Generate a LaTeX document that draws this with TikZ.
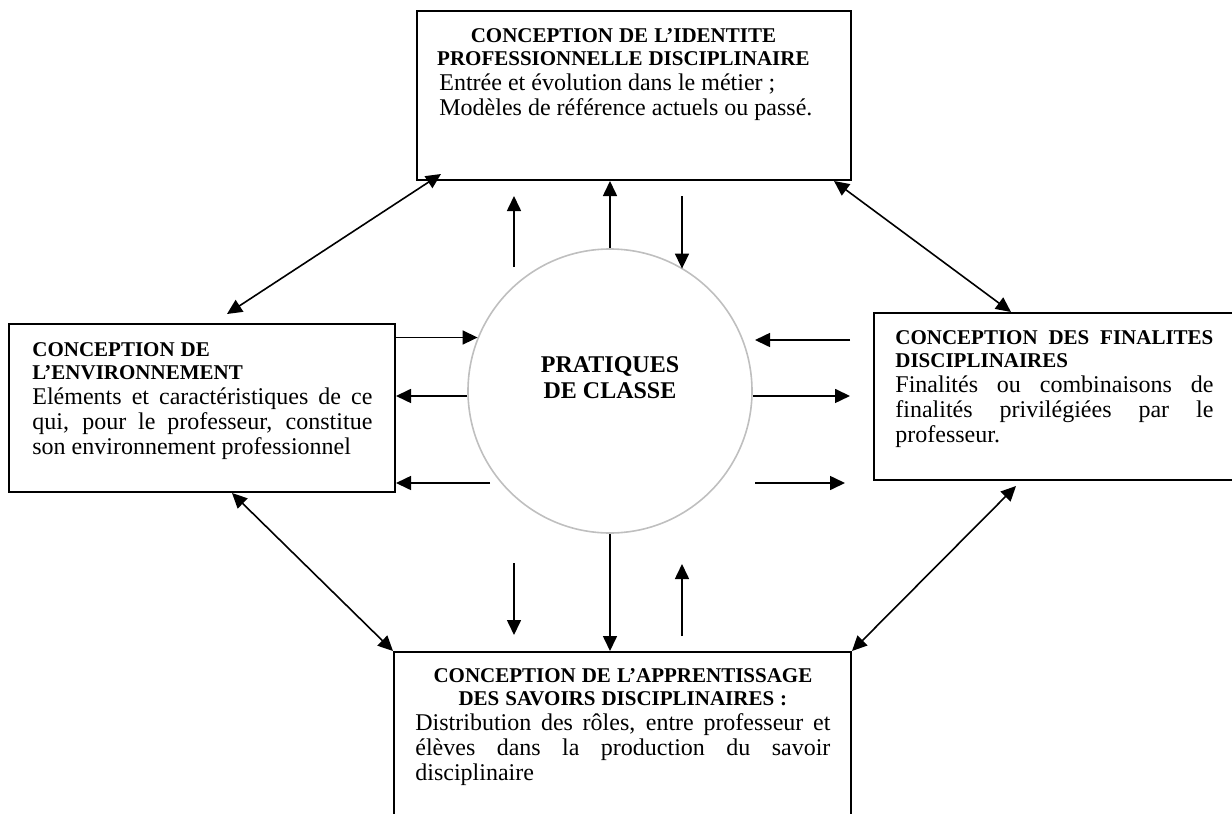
\documentclass[tikz,border=0pt]{standalone}
\usepackage{fontspec}
\setmainfont{Liberation Serif}
\usetikzlibrary{arrows.meta}
\definecolor{pqInk}{HTML}{000000}
\definecolor{pqRing}{HTML}{BFBFBF}
\setlength{\parindent}{0pt}
\newcommand{\pqtitle}{\fontsize{10.5}{11.5}\selectfont\bfseries}
\tikzset{
  pq box/.style={rectangle, draw=pqInk, line width=1pt, inner sep=0pt},
  pq text/.style={anchor=north west, inner sep=0pt, align=justify, font=\fontsize{12}{12.5}\selectfont,
    execute at begin node={\tolerance=10000\hyphenpenalty=10000\exhyphenpenalty=10000%
      \spaceskip=.25em plus 1.5em minus .08em\relax}},
  pq ring/.style={circle, draw=pqRing, line width=0.8pt, minimum size=142pt, inner sep=0pt},
  pq label/.style={inner sep=0pt, align=center, font=\fontsize{12}{13}\selectfont\bfseries},
  pq arrow/.style={draw=pqInk, line width=0.8pt, -{Triangle[length=7.5pt,width=7pt]}},
  pq both/.style={draw=pqInk, line width=0.8pt, {Triangle[length=7.5pt,width=7pt]}-{Triangle[length=7.5pt,width=7pt]}},
}

\begin{document}
\begin{tikzpicture}[x=0.5pt, y=-0.5pt]
  \useasboundingbox (0,0) rectangle (1232,814);
  \clip (0,0) rectangle (1232,814);
  % The four boxes (right and bottom ones run off the page)
  \node[pq box, minimum width=217pt, minimum height=84.5pt] (ident) at (634,95.5) {};
  \node[pq box, minimum width=193pt, minimum height=84pt] (envir) at (202,408) {};
  \node[pq box, minimum width=180pt, minimum height=83.5pt] (final) at (1054,396.5) {};
  \node[pq box, minimum width=228.5pt, minimum height=83pt] (appr) at (622.5,735) {};
  % Central circle
  \node[pq ring] (prat) at (610,391) {};
  \node[pq label] (pratTxt) at (610,378) {PRATIQUES\\DE CLASSE};
  % Box texts
  \node[pq text, text width=189pt] (identTxt) at (434,28)
    {{\centering\pqtitle CONCEPTION DE L’IDENTITE\par PROFESSIONNELLE DISCIPLINAIRE\par}%
     \leavevmode\hspace*{2.5pt}Entrée et évolution dans le métier ;\par
     \leavevmode\hspace*{2.5pt}Modèles de référence actuels ou passé.};
  \node[pq text, text width=170pt] (envirTxt) at (32,342)
    {{\pqtitle CONCEPTION DE\par L’ENVIRONNEMENT\par}%
     Eléments et caractéristiques de ce qui, pour le professeur, constitue son environnement professionnel};
  \node[pq text, text width=159pt] (finalTxt) at (895,330)
    {{\pqtitle CONCEPTION DES FINALITES DISCIPLINAIRES\par}%
     Finalités ou combinaisons de finalités privilégiées par le professeur.};
  \node[pq text, text width=207.5pt] (apprTxt) at (415,668)
    {{\centering\pqtitle CONCEPTION DE L’APPRENTISSAGE\par DES SAVOIRS DISCIPLINAIRES~:\par}%
     Distribution des rôles, entre professeur et\linebreak élèves dans la production du savoir disciplinaire};
  % Free ends of the short arrows
  \coordinate (a1s) at (514,267);
  \coordinate (a1e) at (514,196);
  \coordinate (a3s) at (682,196);
  \coordinate (b1s) at (514,563);
  \coordinate (b1e) at (514,635);
  \coordinate (b3s) at (682,636);
  \coordinate (b3e) at (682,564);
  \coordinate (l3s) at (490,483);
  \coordinate (r1s) at (850,340);
  \coordinate (r1e) at (755,340);
  \coordinate (r2e) at (850,396);
  \coordinate (r3s) at (755,483);
  \coordinate (r3e) at (845,483);
  % Arrows round the circle
  \draw[pq arrow] (a1s) -- (a1e);
  \draw[pq arrow] (prat.north) -- (prat.north |- ident.south);
  \draw[pq arrow] (a3s) -- (a3s |- prat.59.5);
  \draw[pq arrow] (b1s) -- (b1e);
  \draw[pq arrow] (prat.south) -- (prat.south |- appr.north);
  \draw[pq arrow] (b3s) -- (b3e);
  \draw[pq arrow] (envir.east |- prat.158.2) -- (prat.158.2);
  \draw[pq arrow] (prat.182) -- (prat.182 -| envir.east);
  \draw[pq arrow] (l3s) -- (l3s -| envir.east);
  \draw[pq arrow] (r1s) -- (r1e);
  \draw[pq arrow] (prat.358) -- (prat.358 -| r2e);
  \draw[pq arrow] (r3s) -- (r3e);
  % Links between the boxes
  \draw[pq both] ([xshift=12.5pt,yshift=4.5pt]envir.north) -- ([xshift=12.5pt,yshift=3.5pt]ident.south west);
  \draw[pq both] ([xshift=-9pt]ident.south east) -- ([xshift=69pt]final.north west);
  \draw[pq both] ([xshift=15pt]envir.south) -- (appr.north west);
  \draw[pq both] ([xshift=71.5pt,yshift=-2.5pt]final.south west) -- (appr.north east);
\end{tikzpicture}
\end{document}
